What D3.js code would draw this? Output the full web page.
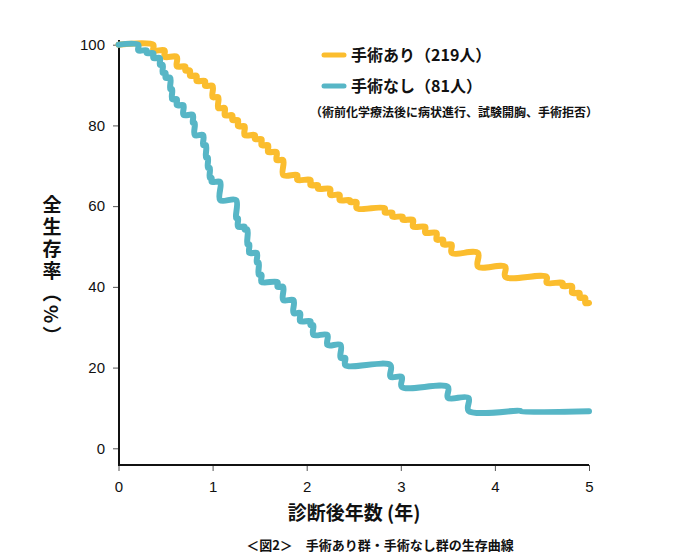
<!DOCTYPE html>
<html lang="ja">
<head>
  <meta charset="UTF-8">
  <title>手術あり群・手術なし群の生存曲線</title>
  <script src="https://d3js.org/d3.v7.min.js"></script>
  <style>
    body { margin: 0; background: #fff; }
    svg { display: block; }
    .tick text { font-family: "Liberation Sans", Arial, sans-serif; font-size: 15px; fill: #111; }
    .jp { font-family: "Noto Sans CJK JP", sans-serif; font-weight: 700; fill: #111; }
  </style>
</head>
<body>
  <svg width="700" height="560"></svg>

  <script>
    // 生存曲線
    const xTicks = [0, 1, 2, 3, 4, 5];
    const yTicks = [0, 20, 40, 60, 80, 100];

    // 手術あり（219人）
    const withSurgeryT = [0, 0.37, 0.49, 0.62, 0.71, 0.76, 0.83, 0.92, 1.00, 1.06, 1.13, 1.21, 1.27, 1.34, 1.45, 1.52, 1.59, 1.68, 1.75, 1.90, 2.04, 2.12, 2.25, 2.35, 2.46, 2.53, 2.83, 2.91, 3.02, 3.13, 3.26, 3.38, 3.45, 3.54, 3.82, 4.11, 4.55, 4.72, 4.82, 4.90, 4.96, 5.0];
    const withSurgeryS = [100, 98.6, 97, 94.6, 93.6, 92.3, 91, 89.8, 87, 84.3, 82.5, 81.3, 79.8, 77.6, 76.6, 75.1, 73.4, 71.4, 67.7, 66.5, 65.2, 64.3, 62.8, 61.5, 61, 59.5, 58.4, 57.4, 56.6, 54.9, 53.4, 51.7, 50.5, 48.4, 45, 42.5, 41, 40.2, 38.5, 37.3, 36, 36];

    // 手術なし（81人）
    const noSurgeryT = [0, 0.21, 0.30, 0.37, 0.44, 0.47, 0.50, 0.55, 0.57, 0.62, 0.69, 0.79, 0.81, 0.90, 0.93, 0.95, 0.97, 0.99, 1.08, 1.25, 1.27, 1.34, 1.37, 1.39, 1.47, 1.49, 1.52, 1.69, 1.75, 1.86, 1.93, 2.04, 2.07, 2.22, 2.36, 2.41, 2.89, 3.01, 3.50, 3.72, 4.27, 5.0];
    const noSurgeryS = [100, 98.6, 97.9, 96.7, 95, 93, 91.8, 89, 86.5, 85, 82.6, 80.6, 77.6, 75.1, 72, 69.5, 67, 66, 61.5, 57, 54.9, 54.2, 50.5, 48.4, 46, 43, 41.2, 40, 36.7, 33.5, 31.5, 30.5, 28.1, 25.6, 22.4, 20.6, 17.7, 15.2, 12.5, 9.3, 9.2, 9.2];

    const series = [
      { name: "手術あり（219人）", color: "#FBBD2E", t: withSurgeryT, s: withSurgeryS },
      { name: "手術なし（81人）", color: "#57B6C6", t: noSurgeryT, s: noSurgeryS }
    ];
    const legendNote = "（術前化学療法後に病状進行、試験開胸、手術拒否）";

    const svg = d3.select("svg");

    const x = d3.scaleLinear().domain([0, 5]).range([118.5, 589]);
    const y = d3.scaleLinear().domain([0, 100]).range([448.3, 44.7]);
    const axisBottomY = 465;

    // y軸
    const yAxisG = svg.append("g")
      .attr("transform", "translate(119,0)")
      .call(d3.axisLeft(y).tickValues(yTicks).tickSize(6).tickPadding(8));
    yAxisG.select(".domain").remove();
    yAxisG.selectAll(".tick line").attr("stroke", "#555");

    // x軸
    const xAxisG = svg.append("g")
      .attr("transform", `translate(0,${axisBottomY})`)
      .call(d3.axisBottom(x).tickValues(xTicks).tickFormat(d3.format("d")).tickSize(6).tickPadding(10));
    xAxisG.select(".domain").remove();
    xAxisG.selectAll(".tick line").attr("stroke", "#555");

    // 軸線
    svg.append("path")
      .attr("d", `M119,40V${axisBottomY}H589`)
      .attr("fill", "none")
      .attr("stroke", "#111")
      .attr("stroke-width", 2);

    // 曲線：階段の頂点を通る滑らかな線
    const line = d3.line()
      .x(d => x(d[0]))
      .y(d => y(d[1]))
      .curve(d3.curveCatmullRom.alpha(0.5));

    // 階段関数の頂点（各時点で前の値→新しい値）
    function stepVertices(ts, ss) {
      const out = [[ts[0], ss[0]]];
      for (let i = 1; i < ts.length; i++) {
        out.push([ts[i], ss[i - 1]]);
        out.push([ts[i], ss[i]]);
      }
      return out;
    }

    series.forEach(sr => {
      svg.append("path")
        .datum(stepVertices(sr.t, sr.s))
        .attr("d", line)
        .attr("fill", "none")
        .attr("stroke", sr.color)
        .attr("stroke-width", 6)
        .attr("stroke-linejoin", "round")
        .attr("stroke-linecap", "round");
    });

    // 凡例
    const legend = svg.append("g").attr("transform", "translate(324,55)");
    series.forEach((sr, i) => {
      const g = legend.append("g").attr("transform", `translate(0,${i * 31})`);
      g.append("line")
        .attr("x1", 0).attr("x2", 20)
        .attr("stroke", sr.color).attr("stroke-width", 5)
        .attr("stroke-linecap", "round");
      g.append("text")
        .attr("class", "jp")
        .attr("x", 27).attr("y", 6)
        .attr("font-size", 16)
        .text(sr.name);
    });
    svg.append("text")
      .attr("class", "jp")
      .attr("x", 310).attr("y", 117)
      .attr("font-size", 12)
      .text(legendNote);

    // 軸タイトル
    svg.append("text")
      .attr("class", "jp")
      .attr("x", 52).attr("y", 195)
      .attr("font-size", 19)
      .style("writing-mode", "vertical-rl")
      .style("letter-spacing", "3px")
      .text("全生存率（%）");

    svg.append("text")
      .attr("class", "jp")
      .attr("x", 354).attr("y", 520)
      .attr("text-anchor", "middle")
      .attr("font-size", 19)
      .text("診断後年数 (年)");

    svg.append("text")
      .attr("class", "jp")
      .attr("x", 380).attr("y", 550)
      .attr("text-anchor", "middle")
      .attr("font-size", 13)
      .text("＜図2＞　手術あり群・手術なし群の生存曲線");
  </script>
</body>
</html>
